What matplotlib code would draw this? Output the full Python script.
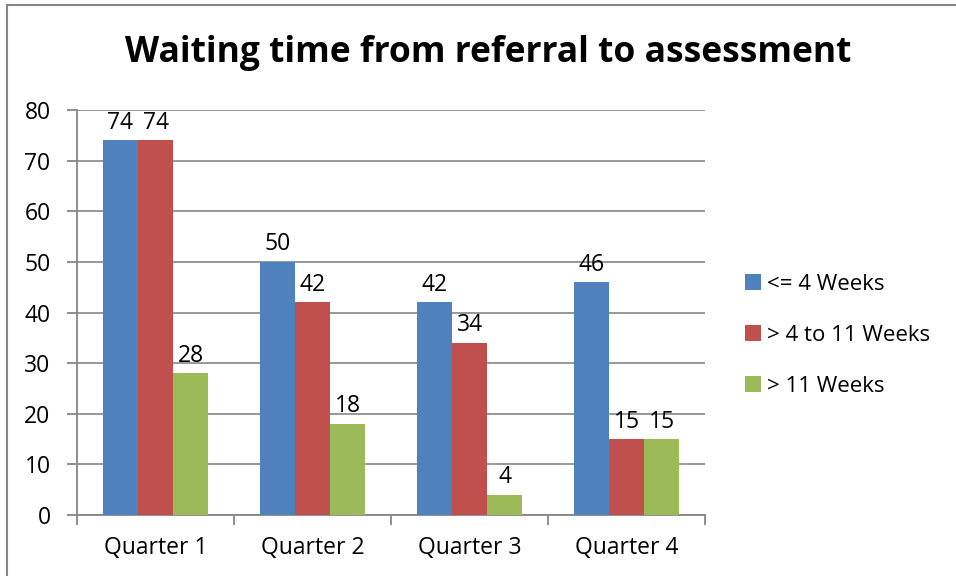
import matplotlib
matplotlib.use('agg')
import matplotlib.pyplot as plt
import numpy as np
from matplotlib.lines import Line2D

categories = ['Quarter 1', 'Quarter 2', 'Quarter 3', 'Quarter 4']
series_names = ['<= 4 Weeks', '> 4 to 11 Weeks', '> 11 Weeks']
le_4_weeks = [74, 50, 42, 46]
from_4_to_11 = [74, 42, 34, 15]
over_11 = [28, 18, 4, 15]
colors = ['#4F81BD', '#C0504D', '#9BBB59']
grid_c = '#868686'

plt.rcParams['font.family'] = ['Open Sans', 'DejaVu Sans']
fs = 16.5

fig = plt.figure(figsize=(9.56, 5.76), dpi=100)
ax = fig.add_axes([77 / 956, 1 - 515 / 576, (705 - 77) / 956, (515 - 110) / 576])

x = np.arange(len(categories))
w = 0.223
for i, (vals, name) in enumerate(zip([le_4_weeks, from_4_to_11, over_11], series_names)):
    bars = ax.bar(x + (i - 1) * w, vals, w, color=colors[i], label=name, zorder=3)
    for b, v in zip(bars, vals):
        ax.annotate(str(v), (b.get_x() + b.get_width() / 2, v), xytext=(0, 4),
                    textcoords='offset points', ha='center', va='bottom', fontsize=fs)

ax.set_xlim(-0.5, 3.5)
ax.set_ylim(0, 80)
ax.set_yticks(range(0, 81, 10))
ax.set_xticks(x)
ax.set_xticklabels(categories)
ax.set_xticks(np.arange(-0.5, 3.6, 1), minor=True)
ax.tick_params(axis='x', which='major', length=0, pad=15, labelsize=fs)
ax.tick_params(axis='x', which='minor', length=7, width=1.3, color=grid_c, direction='out')
ax.tick_params(axis='y', length=7, width=1.3, color=grid_c, labelsize=fs, pad=12)
ax.grid(axis='y', color=grid_c, linewidth=1.2, zorder=0)
for s in ['top', 'right']:
    ax.spines[s].set_visible(False)
for s in ['left', 'bottom']:
    ax.spines[s].set_color(grid_c)
    ax.spines[s].set_linewidth(1.3)

fig.text(488 / 956, 1 - 53 / 576, 'Waiting time from referral to assessment',
         ha='center', va='center', fontsize=25.5, fontweight='bold')

fig.legend(loc='upper left', bbox_to_anchor=(725 / 956, 1 - 254 / 576), frameon=False,
           fontsize=16, handlelength=0.7, handleheight=0.7, handletextpad=0.3,
           labelspacing=1.35)

# chart frame (only left and top edges visible)
fig.add_artist(Line2D([7 / 956, 7 / 956], [0, 1 - 5 / 576], color=grid_c, lw=1.5))
fig.add_artist(Line2D([7 / 956, 1], [1 - 5 / 576, 1 - 5 / 576], color=grid_c, lw=1.5))

fig.savefig('out.png', dpi=100)
